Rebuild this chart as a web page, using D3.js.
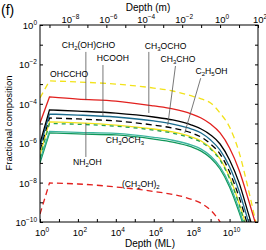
<!DOCTYPE html>
<html>
<head>
<meta charset="utf-8">
<script src="https://cdn.jsdelivr.net/npm/d3@7"></script>
<style>
  body { margin: 0; background: #fff; }
  svg { display: block; font-family: "Liberation Sans", Arial, sans-serif; }
</style>
</head>
<body>
<svg id="chart" width="266" height="250"></svg>
<script>
// depth grid (monolayers) shared by all curves
var depthML = [1, 3.16, 1e2, 1e4, 1e6, 1e7, 1e8, 3.16e8, 1e9, 3.16e9, 1e10, 3.16e10, 1e11, 3.16e11];

// log10 of fractional composition
var ohcchoExp   = [-3.70, -2.84, -2.89, -3.00, -3.20, -3.35, -3.60, -3.75, -3.96, -4.47, -5.18, -6.45, -8.38, -10.5];
var glycolExp   = [-4.97, -3.65, -3.76, -3.86, -4.11, -4.26, -4.52, -4.72, -5.03, -5.48, -6.24, -7.36, -8.88, -10.5];
var ch3ochoExp  = [-6.00, -4.31, -4.37, -4.47, -4.67, -4.82, -5.08, -5.28, -5.58, -6.04, -6.85, -8.00, -9.60, -11.2];
var hcoohExp    = [-6.20, -4.52, -4.57, -4.67, -4.87, -5.03, -5.28, -5.48, -5.84, -6.35, -7.20, -8.43, -10.0, -11.6];
var ch3choExp   = [-6.35, -4.72, -4.77, -4.87, -5.08, -5.23, -5.48, -5.69, -6.04, -6.55, -7.46, -8.73, -10.3, -11.9];
var c2h5ohExp   = [-6.60, -4.92, -4.97, -5.08, -5.28, -5.43, -5.69, -5.89, -6.24, -6.80, -7.72, -9.04, -10.6, -12.2];
var nh2ohExp    = [-6.75, -5.00, -5.04, -5.14, -5.34, -5.49, -5.75, -5.95, -6.30, -6.86, -7.80, -9.10, -10.7, -12.3];
var ch3och3Exp  = [-6.85, -5.40, -5.45, -5.50, -5.70, -5.85, -6.10, -6.30, -6.65, -7.20, -8.10, -9.35, -10.9, -12.5];
var extraExp    = [-7.00, -5.48, -5.53, -5.58, -5.79, -5.94, -6.19, -6.40, -6.75, -7.31, -8.22, -9.50, -11.0, -12.6];
var ethgExp     = [-9.60, -8.02, -8.07, -8.22, -8.45, -8.60, -8.85, -9.05, -9.40, -10.0, -10.9, -12.0, -13.0, -14.0];

var series = [
  {v: ohcchoExp,  color: "#f2e21a", dash: "6,4"},
  {v: ethgExp,    color: "#e2201e", dash: "6,4"},
  {v: extraExp,   color: "#12985a", dash: null},
  {v: ch3och3Exp, color: "#3db59e", dash: null},
  {v: c2h5ohExp,  color: "#f2e21a", dash: null},
  {v: nh2ohExp,   color: "#27a04e", dash: "4,4"},
  {v: ch3choExp,  color: "#000000", dash: "6,4"},
  {v: hcoohExp,   color: "#1b6c8e", dash: null},
  {v: ch3ochoExp, color: "#000000", dash: null},
  {v: glycolExp,  color: "#e2201e", dash: null}
];

// species labels, placed in data units (x in ML, y as fraction)
var labels = [
  {t: [["OHCCHO"]], x: 3.4, y: 2.3e-3},
  {t: [["CH"], ["2", 1], ["(OH)CHO"]], x: 14, y: 6.8e-2},
  {t: [["HCOOH"]], x: 1000, y: 1.5e-2},
  {t: [["CH"], ["3", 1], ["OCHO"]], x: 3.4e5, y: 6.0e-2},
  {t: [["CH"], ["3", 1], ["CHO"]], x: 2.3e6, y: 1.3e-2},
  {t: [["C"], ["2", 1], ["H"], ["5", 1], ["OH"]], x: 1.6e8, y: 3.2e-3},
  {t: [["NH"], ["2", 1], ["OH"]], x: 55, y: 7.9e-8},
  {t: [["CH"], ["3", 1], ["OCH"], ["3", 1]], x: 2950, y: 1.0e-6},
  {t: [["(CH"], ["2", 1], ["OH)"], ["2", 1]], x: 2.1e4, y: 6.0e-9}
];
var pointers = [
  {x1: 263, y1: 4.3e-2, x2: 263, y2: 1.55e-4},
  {x1: 2090, y1: 9.3e-3, x2: 2090, y2: 2.4e-5},
  {x1: 5.5e5, y1: 4.3e-2, x2: 5.5e5, y2: 3.4e-5},
  {x1: 1.4e7, y1: 8.3e-3, x2: 5.5e6, y2: 8.3e-6},
  {x1: 3.0e8, y1: 2.0e-3, x2: 4.3e7, y2: 3.3e-6},
  {x1: 263, y1: 1.07e-5, x2: 263, y2: 2.0e-7}
];

var svg = d3.select("#chart");
var plotL = 40, plotR = 258, plotT = 25, plotB = 222;

var x = d3.scaleLog().domain([1, Math.pow(10, 11.5)]).range([plotL, plotR]);
var xTop = d3.scaleLog().domain([Math.pow(10, -9.5), 100]).range([plotL, plotR]);
var y = d3.scaleLog().domain([1e-10, 1]).range([plotB, plotT]);

svg.append("defs").append("clipPath").attr("id", "clip")
  .append("rect").attr("x", plotL).attr("y", plotT)
  .attr("width", plotR - plotL).attr("height", plotB - plotT);

// curves: straight rise to the peak, smooth afterwards
var lineLin = d3.line().x(function(d) { return x(d[0]); }).y(function(d) { return y(d[1]); });
var lineSmooth = d3.line().x(function(d) { return x(d[0]); }).y(function(d) { return y(d[1]); })
  .curve(d3.curveMonotoneX);

var curves = svg.append("g").attr("clip-path", "url(#clip)");
series.forEach(function(s) {
  var pts = depthML.map(function(m, i) { return [m, Math.pow(10, s.v[i])]; });
  var d = lineLin(pts.slice(0, 2)) + lineSmooth(pts.slice(1)).replace(/^M/, "L");
  curves.append("path")
    .attr("d", d)
    .attr("fill", "none")
    .attr("stroke", s.color)
    .attr("stroke-width", 1.3)
    .attr("stroke-dasharray", s.dash);
});

// pointer lines
svg.append("g").selectAll("line").data(pointers).enter().append("line")
  .attr("x1", function(d) { return x(d.x1); })
  .attr("y1", function(d) { return y(d.y1); })
  .attr("x2", function(d) { return x(d.x2); })
  .attr("y2", function(d) { return y(d.y2); })
  .attr("stroke", "#555").attr("stroke-width", 0.8);

// species labels with subscripts
labels.forEach(function(l) {
  var t = svg.append("text")
    .attr("x", x(l.x)).attr("y", y(l.y))
    .attr("font-size", 8.6).attr("fill", "#000");
  var sub = false;
  l.t.forEach(function(p) {
    var ts = t.append("tspan").text(p[0]);
    if (p[1] && !sub) { ts.attr("dy", 2).attr("font-size", 6); sub = true; }
    else if (!p[1] && sub) { ts.attr("dy", -2); sub = false; }
    else if (p[1] && sub) { ts.attr("font-size", 6); }
  });
});

// frame
svg.append("rect").attr("x", plotL).attr("y", plotT)
  .attr("width", plotR - plotL).attr("height", plotB - plotT)
  .attr("fill", "none").attr("stroke", "#000").attr("stroke-width", 1);

function decades(lo, hi) {
  var out = [];
  for (var e = lo; e <= hi; e++) out.push(e);
  return out;
}

function powLabel(sel, e) {
  sel.append("tspan").text("10");
  sel.append("tspan").attr("dy", -4).attr("font-size", 6.5)
    .text(e < 0 ? "\u2212" + (-e) : String(e));
}

// bottom axis (ML)
var bx = decades(0, 11);
svg.append("g").attr("transform", "translate(0," + plotB + ")")
  .call(d3.axisBottom(x).tickValues(bx.map(function(e) { return Math.pow(10, e); }))
    .tickSize(-3).tickFormat(""))
  .call(function(g) { g.select(".domain").remove(); });
bx.filter(function(e) { return e % 2 === 0; }).forEach(function(e) {
  var t = svg.append("text").attr("x", x(Math.pow(10, e)) + 2).attr("y", 236)
    .attr("text-anchor", "middle").attr("font-size", 9.5);
  powLabel(t, e);
});

// top axis (m)
var tx = decades(-9, 2);
svg.append("g").attr("transform", "translate(0," + plotT + ")")
  .call(d3.axisTop(xTop).tickValues(tx.map(function(e) { return Math.pow(10, e); }))
    .tickSize(-3).tickFormat(""))
  .call(function(g) { g.select(".domain").remove(); });
tx.filter(function(e) { return e % 2 === 0; }).forEach(function(e) {
  var t = svg.append("text").attr("x", xTop(Math.pow(10, e)) + 2).attr("y", 22.5)
    .attr("text-anchor", "middle").attr("font-size", 9.5);
  powLabel(t, e);
});

// left and right axes
var ly = decades(-10, 0);
svg.append("g").attr("transform", "translate(" + plotL + ",0)")
  .call(d3.axisLeft(y).tickValues(ly.map(function(e) { return Math.pow(10, e); }))
    .tickSize(-3).tickFormat(""))
  .call(function(g) { g.select(".domain").remove(); });
svg.append("g").attr("transform", "translate(" + plotR + ",0)")
  .call(d3.axisRight(y).tickValues(ly.map(function(e) { return Math.pow(10, e); }))
    .tickSize(-3).tickFormat(""))
  .call(function(g) { g.select(".domain").remove(); });
ly.filter(function(e) { return e % 2 === 0; }).forEach(function(e) {
  var t = svg.append("text").attr("x", 37).attr("y", y(Math.pow(10, e)) + 4)
    .attr("text-anchor", "end").attr("font-size", 9.5);
  powLabel(t, e);
});

// titles
svg.append("text").attr("x", 150).attr("y", 247).attr("text-anchor", "middle")
  .attr("font-size", 10).text("Depth (ML)");
svg.append("text").attr("x", 148).attr("y", 11).attr("text-anchor", "middle")
  .attr("font-size", 10).text("Depth (m)");
svg.append("text").attr("transform", "translate(12,123) rotate(-90)")
  .attr("text-anchor", "middle").attr("font-size", 9.5).text("Fractional composition");
svg.append("text").attr("x", 1).attr("y", 15).attr("font-size", 14).text("(f)");
</script>
</body>
</html>
